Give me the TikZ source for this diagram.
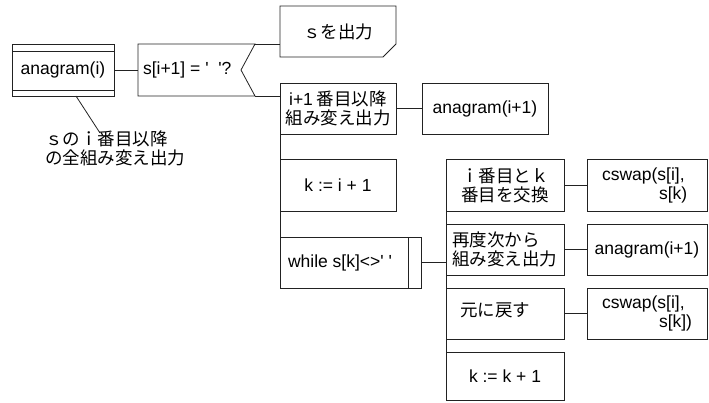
\documentclass[tikz,border=0pt]{standalone}
\usepackage{fontspec}
\setmainfont{Liberation Sans}
\newfontfamily\lat{Liberation Sans}
\newfontfamily\jp{Noto Sans CJK JP}
\newcommand\fsz{\fontsize{17.5}{19}\selectfont}
\definecolor{lc}{HTML}{222222}
\tikzset{
  box/.style={draw=lc, line width=0.8pt, rectangle, inner sep=0pt, outer sep=0pt, font=\fsz},
  txt/.style={inner sep=0pt, outer sep=0pt, font=\fsz},
  jtxt/.style={inner sep=0pt, outer sep=0pt, font=\fsz\jp},
  conn/.style={draw=lc, line width=0.8pt},
}
\begin{document}
\begin{tikzpicture}[x=1pt,y=-1pt]
\useasboundingbox (0,0) rectangle (709,403);
% main routine box
\node[box, minimum width=102pt, minimum height=52pt] (main) at (63,70) {anagram(i)};
\draw[conn] ([yshift=-7pt]main.north west) -- ([yshift=-7pt]main.north east);
\draw[conn] ([yshift=6pt]main.south west) -- ([yshift=6pt]main.south east);
% comment
\node[jtxt, anchor=west, align=left] (note) at (45,148) {ｓのｉ番目以降\\の全組み変え出力};
\coordinate (noteend) at (100,133);
\draw[conn] ([xshift=13pt]main.south) -- (noteend);
% condition
\coordinate (cNW) at (138,44);
\coordinate (cNE) at (255,44);
\coordinate (cTip) at (241,70);
\coordinate (cSE) at (255,96);
\coordinate (cSW) at (138,96);
\draw[conn] (cNW) -- (cNE) -- (cTip) -- (cSE) -- (cSW) -- cycle;
\node[txt, anchor=west] (condtxt) at (143,70) {s[i+1] = \textquotesingle\ \ \textquotesingle?};
\draw[conn] (main.east) -- (main.east -| cNW);
% output box
\node[jtxt, minimum width=116pt, minimum height=51pt] (out) at (338,31.5) {ｓを出力};
\draw[conn] (out.north west) -- (out.north east) -- ([yshift=13pt]out.south east) -- ([xshift=-13pt]out.south east) -- (out.south west) -- cycle;
\draw[conn] (cNE) -- (cNE -| out.west);
% else branch
\node[box, font=\fsz\jp, minimum width=116pt, minimum height=51pt, align=center] (b1) at (338,108.5) {{\lat i+1} 番目以降\\組み変え出力};
\draw[conn] (cSE) -- (cSE -| b1.west);
\node[box, minimum width=126pt, minimum height=51pt] (a1) at (485,108.5) {anagram(i+1)};
\draw[conn] (b1.east) -- (a1.west);
\node[box, minimum width=116pt, minimum height=52pt] (b2) at (338,185) {k := i + 1};
\node[box, minimum width=141pt, minimum height=51pt] (b3) at (350.5,262.5) {};
\draw[conn] ([xshift=-13pt]b3.north east) -- ([xshift=-13pt]b3.south east);
\node[txt, anchor=west] (b3t) at ([xshift=8pt]b3.west) {while s[k]<>\textquotesingle\ \textquotesingle};
\draw[conn] (b1.south west) -- (b2.north west);
\draw[conn] (b2.south west) -- (b3.north west);
% loop body
\node[box, font=\fsz\jp, minimum width=118pt, minimum height=52pt, align=center] (c1) at (505,185) {ｉ番目とｋ\\番目を交換};
\node[box, minimum width=118pt, minimum height=51pt] (c2) at (505,249.5) {};
\node[jtxt, anchor=west, align=left] (c2t) at ([xshift=6pt]c2.west) {再度次から\\組み変え出力};
\node[box, minimum width=118pt, minimum height=51pt] (c3) at (505,313.5) {};
\node[jtxt, anchor=west] (c3t) at ([xshift=14pt,yshift=3pt]c3.west) {元に戻す};
\node[box, minimum width=118pt, minimum height=48pt] (c4) at (505,376) {k := k + 1};
\draw[conn] (b3.east) -- (b3.east -| c2.west);
\draw[conn] (c1.south west) -- (c2.north west);
\draw[conn] (c2.south west) -- (c3.north west);
\draw[conn] (c3.south west) -- (c4.north west);
% calls
\node[box, minimum width=120pt, minimum height=52pt] (d1) at (647,185) {};
\node[txt, anchor=west, align=left] (d1t) at ([xshift=15pt]d1.west) {cswap(s[i],\\\hspace*{57pt}s[k)};
\node[box, minimum width=120pt, minimum height=51pt] (d2) at (647,249.5) {anagram(i+1)};
\node[box, minimum width=120pt, minimum height=51pt] (d3) at (647,313.5) {};
\node[txt, anchor=west, align=left] (d3t) at ([xshift=15pt]d3.west) {cswap(s[i],\\\hspace*{57pt}s[k])};
\draw[conn] (c1.east) -- (d1.west);
\draw[conn] (c2.east) -- (d2.west);
\draw[conn] (c3.east) -- (d3.west);
\end{tikzpicture}
\end{document}
